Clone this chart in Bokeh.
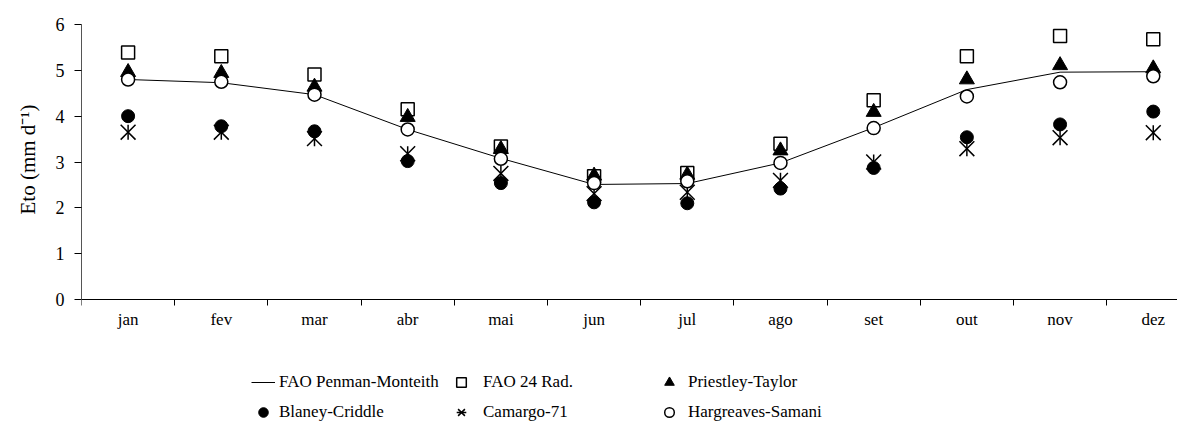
import math
from bokeh.plotting import figure
from bokeh.models import Range1d, FixedTicker, Legend, LegendItem, Title
from bokeh.embed import file_html
from bokeh.resources import INLINE

months = ["jan", "fev", "mar", "abr", "mai", "jun", "jul", "ago", "set", "out", "nov", "dez"]
penman = [4.80, 4.73, 4.47, 3.71, 3.08, 2.51, 2.53, 2.98, 3.75, 4.58, 4.96, 4.97]
fao24 = [5.39, 5.31, 4.91, 4.15, 3.34, 2.69, 2.76, 3.40, 4.35, 5.31, 5.75, 5.68]
priestley = [4.96, 4.94, 4.64, 3.98, 3.28, 2.70, 2.72, 3.25, 4.09, 4.80, 5.11, 5.04]
blaney = [4.00, 3.78, 3.67, 3.02, 2.54, 2.12, 2.10, 2.42, 2.87, 3.54, 3.82, 4.10]
camargo = [3.65, 3.65, 3.51, 3.18, 2.75, 2.31, 2.34, 2.60, 3.00, 3.29, 3.53, 3.64]
hargreaves = [4.80, 4.75, 4.47, 3.71, 3.07, 2.54, 2.58, 2.98, 3.74, 4.43, 4.74, 4.87]
y_ticks = [0, 1, 2, 3, 4, 5, 6]
y_label = "Eto (mm d\u207b\u00b9)"

x = [i + 0.5 for i in range(len(months))]
FONT = "Liberation Serif"

# the frame reaches down to the legend; the x axis sits at y = 0
p = figure(width=1177, height=424, output_backend="svg", toolbar_location=None,
           x_range=Range1d(0, 11.76), y_range=Range1d(-2.727, 6),
           min_border_left=80, min_border_right=0, min_border_top=24, min_border_bottom=0)
p.outline_line_color = None
p.grid.visible = False
p.background_fill_color = "white"
p.border_fill_color = "white"

# x axis
xa = p.xaxis[0]
xa.fixed_location = 0
xa.ticker = FixedTicker(ticks=x, minor_ticks=list(range(len(months) + 1)))
xa.major_label_overrides = {xi: m for xi, m in zip(x, months)}
xa.major_tick_out = 0
xa.major_tick_in = 0
xa.minor_tick_out = 6
xa.minor_tick_in = 0
xa.minor_tick_line_color = "black"
xa.axis_line_color = "black"
xa.major_label_standoff = 4
xa.major_label_text_font = FONT
xa.major_label_text_font_size = "17px"
xa.major_label_text_color = "black"

# y axis
ya = p.yaxis[0]
ya.bounds = (0, 6)
ya.ticker = FixedTicker(ticks=y_ticks, minor_ticks=[])
ya.major_tick_out = 7
ya.major_tick_in = 0
ya.major_tick_line_color = "black"
ya.axis_line_color = "#555555"
ya.major_label_standoff = 10
ya.major_label_text_font = FONT
ya.major_label_text_font_size = "18px"
ya.major_label_text_color = "black"

ytitle = Title(text=y_label, align="left", offset=210, standoff=26,
               text_font=FONT, text_font_size="21px", text_font_style="normal",
               text_color="black")
p.add_layout(ytitle, "left")

r_pm = p.line(x, penman, line_color="black", line_width=1)
r_sq = p.scatter(x, fao24, marker="square", size=13, fill_color="white",
                 line_color="black", line_width=1.5)
r_tr = p.scatter(x, priestley, marker="triangle", size=15, fill_color="black",
                 line_color="black", line_width=1)
r_bc = p.scatter(x, blaney, marker="circle", size=13, fill_color="black",
                 line_color="black", line_width=1)
r_cx = p.scatter(x, camargo, marker="x", size=21, line_color="black", line_width=1.5)
r_cd = p.scatter(x, camargo, marker="dash", size=15, angle=math.pi / 2,
                 line_color="black", line_width=1.5)
r_hs = p.scatter(x, hargreaves, marker="circle", size=13, fill_color="white",
                 line_color="black", line_width=1.5)

columns = [
    ([("FAO Penman-Monteith", [r_pm]), ("Blaney-Criddle", [r_bc])], 170, 4),
    ([("FAO 24 Rad.", [r_sq]), ("Camargo-71", [r_cx, r_cd])], 368, 10),
    ([("Priestley-Taylor", [r_tr]), ("Hargreaves-Samani", [r_hs])], 576, 7),
]
for entries, lx, standoff in columns:
    lg = Legend(items=[LegendItem(label=t, renderers=rs) for t, rs in entries],
                location=(lx, 0), orientation="vertical")
    lg.glyph_width = 24
    lg.glyph_height = 24
    lg.label_height = 22
    lg.label_standoff = standoff
    lg.spacing = 6
    lg.padding = 0
    lg.margin = 0
    lg.border_line_color = None
    lg.background_fill_alpha = 0
    lg.label_text_font = FONT
    lg.label_text_font_size = "17px"
    lg.label_text_color = "black"
    p.add_layout(lg, "center")

open("out.html", "w").write(file_html(p, INLINE))
